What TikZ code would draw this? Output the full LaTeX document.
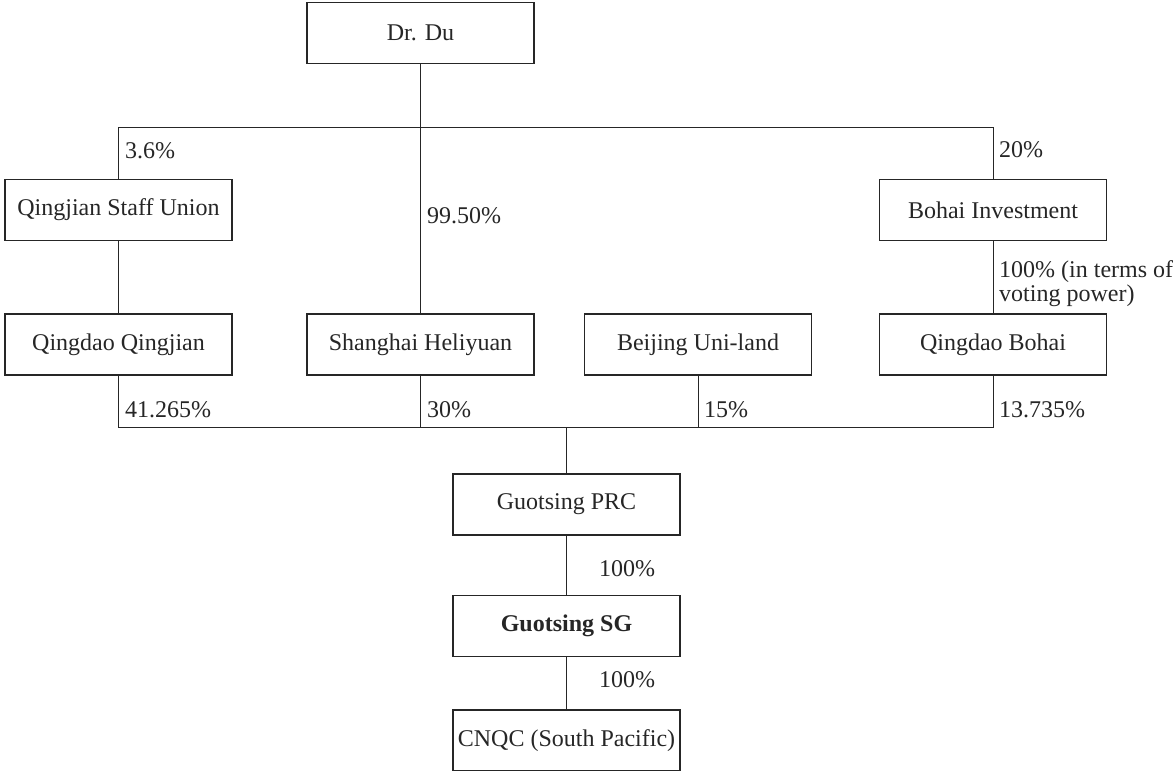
\documentclass[tikz,border=0pt]{standalone}
\usepackage{fontspec}
\setmainfont{Liberation Serif}
\begin{document}
\begin{tikzpicture}[x=1pt,y=-1pt,
  box/.style={draw=black!85,line width=1.1pt,minimum width=227pt,minimum height=61pt,inner sep=0pt,font=\fontsize{24}{26}\selectfont,text=black!85},
  conn/.style={draw=black!85,line width=1pt},
  pct/.style={anchor=base west,inner sep=0pt,font=\fontsize{24}{24}\selectfont,text=black!85}]
\useasboundingbox (0,0) rectangle (1176,771);
% boxes
\node[box] (du) at (420.5,33) {Dr. Du};
\node[box] (staff) at (118.5,210) {Qingjian Staff Union};
\node[box] (binv) at (993,210) {Bohai Investment};
\node[box] (qq) at (118.5,344.5) {Qingdao Qingjian};
\node[box] (sh) at (420.5,344.5) {Shanghai Heliyuan};
\node[box] (bj) at (698,344.5) {Beijing Uni-land};
\node[box] (qb) at (993,344.5) {Qingdao Bohai};
\node[box] (prc) at (566.5,504.5) {Guotsing PRC};
\node[box] (sg) at (566.5,626) {\bfseries Guotsing SG};
\node[box] (cnqc) at (566.5,740.5) {CNQC (South Pacific)};
% bus coordinates
\coordinate (top) at (420.5,127.7);
\coordinate (bot) at (566.5,427.7);
% connectors
\draw[conn] (du.south) -- (sh.north);
\draw[conn] (staff.north) -- (staff.north |- top) -- (binv.north |- top) -- (binv.north);
\draw[conn] (staff.south) -- (qq.north);
\draw[conn] (binv.south) -- (qb.north);
\draw[conn] (qq.south) -- (qq.south |- bot) -- (qb.south |- bot) -- (qb.south);
\draw[conn] (sh.south) -- (sh.south |- bot);
\draw[conn] (bj.south) -- (bj.south |- bot);
\draw[conn] (bot) -- (prc.north);
\draw[conn] (prc.south) -- (sg.north);
\draw[conn] (sg.south) -- (cnqc.north);
% labels
\node[pct] (l36) at (125,158) {3.6\%};
\node[pct] (l995) at (427,223) {99.50\%};
\node[pct] (l20) at (999,157) {20\%};
\node[pct,align=left] (l100v) at (999,301) {100\% (in terms of\\voting power)};
\node[pct] (l41) at (125,417) {41.265\%};
\node[pct] (l30) at (427,417) {30\%};
\node[pct] (l15) at (704,417) {15\%};
\node[pct] (l13) at (999,417) {13.735\%};
\node[pct] (l100a) at (599,576) {100\%};
\node[pct] (l100b) at (599,687) {100\%};
\end{tikzpicture}
\end{document}
